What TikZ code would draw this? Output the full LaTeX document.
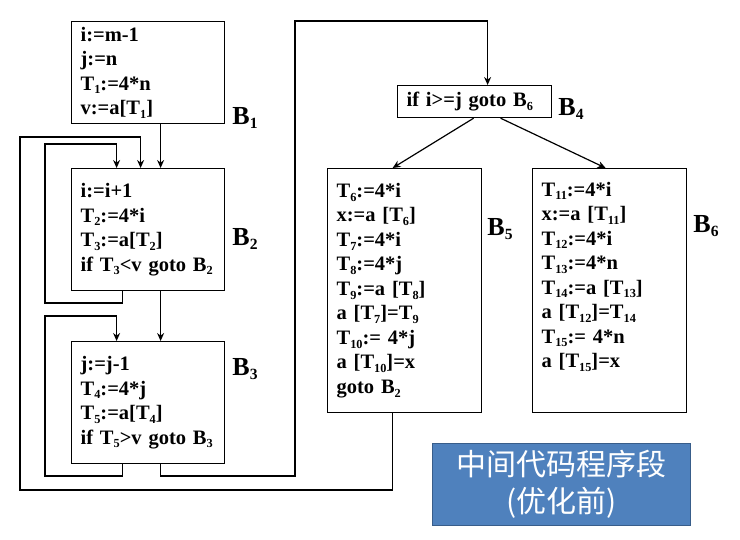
\documentclass[tikz,border=0pt]{standalone}
\usepackage{fontspec}
\setmainfont{Liberation Serif}
\newfontfamily\cjk{Noto Sans CJK SC}
\usetikzlibrary{positioning}
\usetikzlibrary{arrows.meta}
\newcommand{\lo}[1]{\raisebox{-0.4ex}{\scalebox{0.6}{#1}}}
\definecolor{boxblue}{RGB}{79,129,189}
\definecolor{edgeblue}{RGB}{56,93,138}
\tikzset{
  blk/.style={draw, line width=1.2pt, anchor=north west, align=left, inner xsep=9pt,
    font=\fontsize{20.5}{24.5}\selectfont\bfseries},
  lbl/.style={font=\fontsize{26}{26}\selectfont\bfseries},
  wire/.style={line width=1.2pt},
  flow/.style={wire, -{Stealth[length=8pt,width=7pt]}}
}

\begin{document}
\begin{tikzpicture}[x=1pt,y=-1pt]
  \useasboundingbox (0,0) rectangle (740,539);
  \node[blk, text width=135pt, minimum height=102pt] (b1) at (71,21)
    {i:=m-1\\ j:=n\\ T\lo{1}:=4*n\\ v:=a[T\lo{1}]};
  \node[blk, text width=135pt, minimum height=122pt] (b2) at (71,168)
    {i:=i+1\\ T\lo{2}:=4*i\\ T\lo{3}:=a[T\lo{2}]\\ if T\lo{3}<v goto B\lo{2}};
  \node[blk, text width=135pt, minimum height=122pt] (b3) at (71,341)
    {j:=j-1\\ T\lo{4}:=4*j\\ T\lo{5}:=a[T\lo{4}]\\ if T\lo{5}>v goto B\lo{3}};
  \node[blk, text width=136pt, minimum height=32pt] (b4) at (397,85)
    {if i>=j goto B\lo{6}};
  \node[blk, text width=136pt, minimum height=244pt] (b5) at (327,168)
    {T\lo{6}:=4*i\\ x:=a [T\lo{6}]\\ T\lo{7}:=4*i\\ T\lo{8}:=4*j\\ T\lo{9}:=a [T\lo{8}]\\
     a [T\lo{7}]=T\lo{9}\\ T\lo{10}:= 4*j\\ a [T\lo{10}]=x\\ goto B\lo{2}};
  \node[blk, text width=136pt, minimum height=244pt] (b6) at (532,168)
    {T\lo{11}:=4*i\\ x:=a [T\lo{11}]\\ T\lo{12}:=4*i\\ T\lo{13}:=4*n\\ T\lo{14}:=a [T\lo{13}]\\
     a [T\lo{12}]=T\lo{14}\\ T\lo{15}:= 4*n\\ a [T\lo{15}]=x\\ \strut};
  \node[lbl] (n1) at (245,118) {B\lo{1}};
  \node[lbl] (n2) at (245,239) {B\lo{2}};
  \node[lbl] (n3) at (245,369) {B\lo{3}};
  \node[lbl] (n4) at (571,109) {B\lo{4}};
  \node[lbl] (n5) at (500,229) {B\lo{5}};
  \node[lbl] (n6) at (706,226) {B\lo{6}};
  \node[draw=edgeblue, fill=boxblue, line width=0.8pt, anchor=north west,
    minimum width=258pt, minimum height=82pt, align=center, text=white,
    font=\cjk\fontsize{30}{37}\selectfont] (tag) at (432,443)
    {中间代码程序段\\(优化前)};
  \draw[flow] ([xshift=12.5pt]b1.south) -- ([xshift=12.5pt]b2.north);
  \draw[flow] ([xshift=12.5pt]b2.south) -- ([xshift=12.5pt]b3.north);
  \draw[flow] ([xshift=-25.5pt]b2.south) |- (45,303) -- (45,144) -| ([xshift=-31.5pt]b2.north);
  \draw[flow] ([xshift=-25.5pt]b3.south) |- (45,476) -- (45,316) -| ([xshift=-31.5pt]b3.north);
  \draw[flow] ([xshift=12.5pt]b3.south) |- (295,476) -- (295,21) -| ([xshift=13pt]b4.north);
  \draw[flow] ([xshift=-1pt]b4.south) -- ([xshift=-12pt]b5.north);
  \draw[flow] ([xshift=26pt]b4.south) -- ([xshift=-4pt]b6.north);
  \draw[flow] ([xshift=-12pt]b5.south) |- (20,490) -- (20,137) -| ([xshift=-7.5pt]b2.north);
\end{tikzpicture}
\end{document}
